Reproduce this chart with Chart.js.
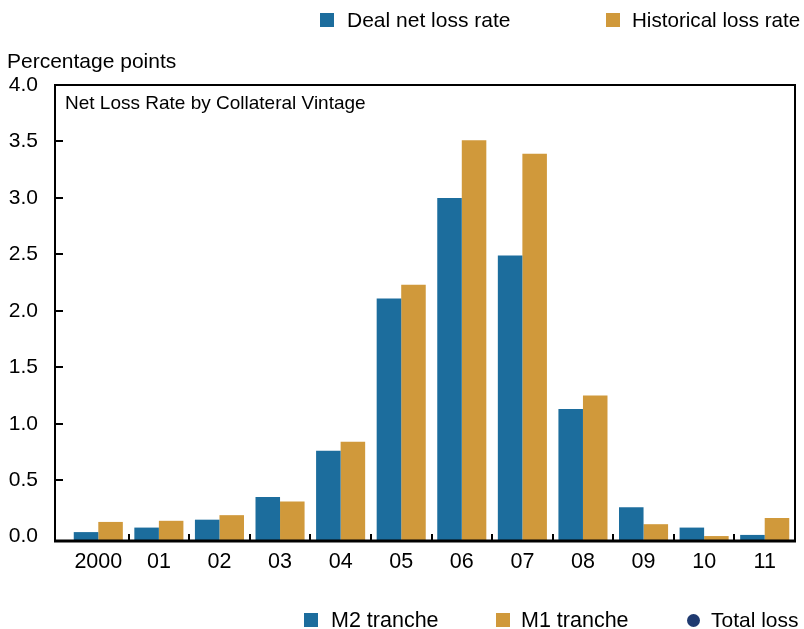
<!DOCTYPE html>
<html>
<head>
<meta charset="utf-8">
<script src="https://cdn.jsdelivr.net/npm/chart.js@4/dist/chart.umd.min.js"></script>
<style>
  html, body { margin: 0; padding: 0; background: #fff; }
  #wrap { position: relative; width: 804px; height: 629px; overflow: hidden; font-family: "Liberation Sans", Arial, sans-serif; color: #000; }
  #wrap canvas { position: absolute; left: 0; top: 0; }
  .t { position: absolute; white-space: nowrap; font-size: 21px; line-height: 24px; }
  .sq { position: absolute; width: 14px; height: 14px; }
  .dot { position: absolute; width: 13px; height: 13px; border-radius: 50%; }
</style>
</head>
<body>
<div id="wrap">
  <canvas id="c" width="804" height="629"></canvas>
  <div class="sq" style="left:320px;top:13px;background:#1c6d9d"></div>
  <div class="t" style="left:347px;top:8px">Deal net loss rate</div>
  <div class="sq" style="left:606px;top:13px;background:#d0993b"></div>
  <div class="t" style="left:632px;top:8px;font-size:20.6px">Historical loss rate</div>
  <div class="t" style="left:7px;top:49px">Percentage points</div>
  <div class="t" style="left:65px;top:92px;font-size:19px;line-height:21px">Net Loss Rate by Collateral Vintage</div>
  <div class="sq" style="left:304px;top:613px;background:#1c6d9d"></div>
  <div class="t" style="left:331px;top:608px;font-size:21.5px">M2 tranche</div>
  <div class="sq" style="left:496px;top:613px;background:#d0993b"></div>
  <div class="t" style="left:521px;top:608px;font-size:21.5px">M1 tranche</div>
  <div class="dot" style="left:687px;top:614px;background:#1f3a70"></div>
  <div class="t" style="left:711px;top:608px">Total loss</div>
</div>
<script>
const categories = ["2000", "01", "02", "03", "04", "05", "06", "07", "08", "09", "10", "11"];
const dealNetLoss = [0.04, 0.08, 0.15, 0.35, 0.76, 2.11, 3.00, 2.49, 1.13, 0.26, 0.08, 0.015];
const historicalLoss = [0.13, 0.14, 0.19, 0.31, 0.84, 2.23, 3.51, 3.39, 1.25, 0.11, 0.005, 0.165];
const yTicks = [0, 0.5, 1.0, 1.5, 2.0, 2.5, 3.0, 3.5, 4.0];
const yMin = -0.03, yMax = 4.0;

const FONT = '"Liberation Sans", Arial, sans-serif';

const framePlugin = {
  id: 'frame',
  afterDatasetsDraw(chart) {
    const { ctx, chartArea: a, scales: { x, y } } = chart;
    const left = a.left - 13;
    ctx.save();
    ctx.strokeStyle = '#000';
    ctx.lineWidth = 2;
    ctx.beginPath();
    ctx.moveTo(left, a.bottom + 1);
    ctx.lineTo(left, a.top);
    ctx.lineTo(a.right, a.top);
    ctx.lineTo(a.right, a.bottom + 1);
    ctx.stroke();
    ctx.lineWidth = 3;
    ctx.beginPath();
    ctx.moveTo(left - 1, a.bottom + 1);
    ctx.lineTo(a.right + 1, a.bottom + 1);
    ctx.stroke();
    ctx.lineWidth = 2;
    ctx.beginPath();
    y.ticks.forEach(t => {
      if (t.value <= 0 || t.value >= yMax) return;
      const py = Math.round(y.getPixelForValue(t.value));
      ctx.moveTo(left, py);
      ctx.lineTo(left + 8, py);
    });
    for (let i = 0; i < categories.length - 1; i++) {
      const px = Math.round((x.getPixelForValue(i) + x.getPixelForValue(i + 1)) / 2);
      ctx.moveTo(px, a.bottom);
      ctx.lineTo(px, a.bottom - 6);
    }
    ctx.stroke();
    ctx.restore();
  }
};

new Chart(document.getElementById('c'), {
  type: 'bar',
  data: {
    labels: categories,
    datasets: [
      { label: 'Deal net loss rate', data: dealNetLoss, backgroundColor: '#1c6d9d', base: yMin },
      { label: 'Historical loss rate', data: historicalLoss, backgroundColor: '#d0993b', base: yMin }
    ]
  },
  options: {
    responsive: false,
    animation: false,
    devicePixelRatio: 1,
    layout: { padding: { top: 85, right: 9, bottom: 49, left: 0 } },
    datasets: { bar: { categoryPercentage: 0.81, barPercentage: 1.0, borderWidth: 0 } },
    plugins: { legend: { display: false }, tooltip: { enabled: false }, title: { display: false } },
    scales: {
      x: {
        grid: { display: false, drawTicks: false },
        border: { display: false },
        ticks: { color: '#000', font: { family: FONT, size: 21.5 }, padding: 9, maxRotation: 0, autoSkip: false },
        afterFit: s => { s.height = 40; s.paddingLeft = 0; s.paddingRight = 0; }
      },
      y: {
        min: yMin, max: yMax,
        grid: { display: false, drawTicks: false },
        border: { display: false },
        ticks: { color: '#000', font: { family: FONT, size: 21 }, padding: 30, callback: v => Number(v).toFixed(1) },
        afterBuildTicks: s => { s.ticks = yTicks.map(v => ({ value: v })); },
        afterFit: s => { s.width = 68; s.paddingTop = 0; s.paddingBottom = 0; }
      }
    }
  },
  plugins: [framePlugin]
});
</script>
</body>
</html>
